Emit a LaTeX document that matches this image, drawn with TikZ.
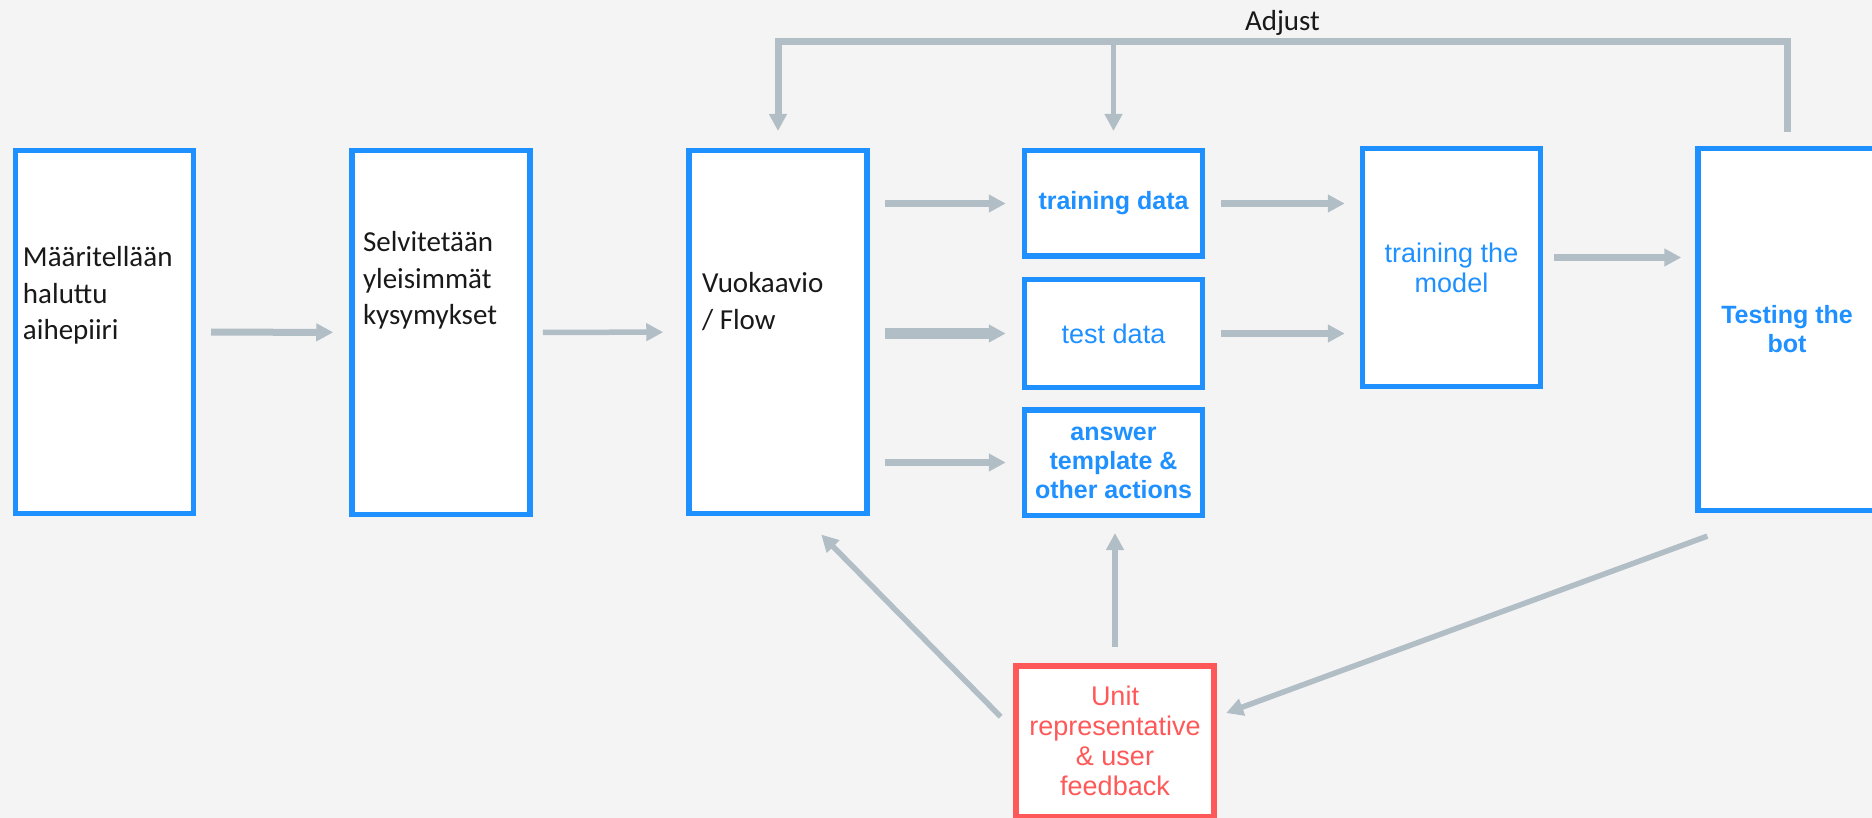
\documentclass[tikz,border=0pt]{standalone}
\usepackage{fontspec}
\setmainfont{Liberation Sans}
\newfontfamily\calibrifont{Carlito}
\usetikzlibrary{arrows.meta, positioning, calc}

\definecolor{bggray}{HTML}{F4F4F4}
\definecolor{boxblue}{RGB}{30,144,255}
\definecolor{fbred}{RGB}{255,88,88}
\definecolor{arrowgray}{RGB}{178,190,197}
\definecolor{inkdark}{RGB}{25,25,25}

\newlength{\boxw}
\setlength{\boxw}{178pt}
% left-set text, lifted above the box centre
\newcommand{\sidetext}[3]{%
  \raisebox{#1}[0pt][0pt]{\makebox[\boxw][l]{\hspace*{#2}%
    \begin{tabular}{@{}l@{}}#3\end{tabular}}}}

\tikzset{
  frame/.style={rectangle, draw=boxblue, line width=5.5pt, fill=white,
    minimum width=\boxw},
  box/.style={frame, text=boxblue, align=center, inner sep=2pt,
    font=\fontsize{27}{30}\selectfont},
  boldbox/.style={box, font=\fontsize{25}{29}\selectfont\bfseries},
  sidebox/.style={frame, inner sep=0pt, text=inkdark,
    font=\calibrifont\fontsize{29}{36.5}\selectfont},
  feedbox/.style={box, draw=fbred, text=fbred, minimum width=198pt},
  arrow/.style={-{Triangle[length=17pt, width=17pt]}, line width=7pt,
    color=arrowgray},
  thinarrow/.style={arrow, line width=5.5pt},
  fatarrow/.style={arrow, line width=11pt},
}

\begin{document}
\begin{tikzpicture}[x=1pt, y=-1pt]
  \useasboundingbox (0,0) rectangle (1872,818);
  \clip (0,0) rectangle (1872,818);
  \fill[bggray] (0,0) rectangle (1872,818);

  \node[sidebox, minimum height=362.5pt] (def) at (104.25,332)
    {\sidetext{29.75pt}{7.75pt}{Määritellään\\haluttu\\aihepiiri}};
  \node[sidebox, minimum height=363.5pt] (sel) at (441,332.5)
    {\sidetext{45.25pt}{11pt}{Selvitetään\\yleisimmät\\kysymykset}};
  \node[sidebox, minimum height=362.5pt] (flow) at (778,332)
    {\sidetext{22.25pt}{13pt}{Vuokaavio\\/ Flow}};

  \node[boldbox, minimum height=105.5pt] (trdata) at (1113.5,203.5) {training data};
  \node[box, minimum height=107.5pt, below=18pt of trdata] (tedata) {test data};
  \node[boldbox, minimum height=105.5pt, below=17pt of tedata]
    (answer) {answer\\template \&\\other actions};

  \node[box, minimum height=237.5pt] (model) at (1451.5,267.5) {training the\\model};
  \node[boldbox, minimum height=361.5pt] (testing) at (1787,329.5) {Testing the\\bot};
  \node[feedbox, minimum height=150.5pt] (unit) at (1115,741)
    {Unit\\representative\\\& user\\feedback};

  % main flow
  \draw[arrow, shorten <=15pt, shorten >=16pt] (def) -- (sel);
  \draw[thinarrow, shorten <=10pt, shorten >=23pt] (sel) -- (flow);
  \draw[arrow, shorten <=15pt, shorten >=16pt] (flow.east |- trdata.west) -- (trdata.west);
  \draw[fatarrow, shorten <=15pt, shorten >=16pt] (flow.east |- tedata.west) -- (tedata.west);
  \draw[arrow, shorten <=15pt, shorten >=16pt] (flow.east |- answer.west) -- (answer.west);
  \draw[arrow, shorten <=16pt, shorten >=15pt] (trdata.east) -- (trdata.east -| model.west);
  \draw[arrow, shorten <=16pt, shorten >=15pt] (tedata.east) -- (tedata.east -| model.west);
  \draw[arrow, shorten <=11pt, shorten >=14pt]
    ([yshift=10pt]model.east) -- ([yshift=10pt]model.east -| testing.west);

  % feedback
  \draw[thinarrow, shorten <=67pt, shorten >=10pt]
    ([xshift=75pt]testing.south west) -- ([yshift=24.5pt]unit.east);
  \draw[thinarrow, shorten <=16pt, shorten >=15pt] (unit.north) -- (unit.north |- answer.south);
  \draw[thinarrow, shorten <=18pt, shorten >=26pt]
    ([yshift=11.5pt]unit.west) -- ([xshift=25pt]flow.south);

  % adjust loop
  \coordinate (top) at (0,42);
  \draw[arrow, line join=miter, shorten <=14pt, shorten >=17pt]
    (testing.north) -- (testing.north |- top)
    -- node[above=3pt, inner sep=0pt, text=inkdark,
            font=\calibrifont\fontsize{29}{34}\selectfont] (adjust) {Adjust}
    (flow.north |- top) -- (flow.north);
  \draw[thinarrow, shorten >=17pt] (trdata.north |- top) -- (trdata.north);
\end{tikzpicture}
\end{document}
